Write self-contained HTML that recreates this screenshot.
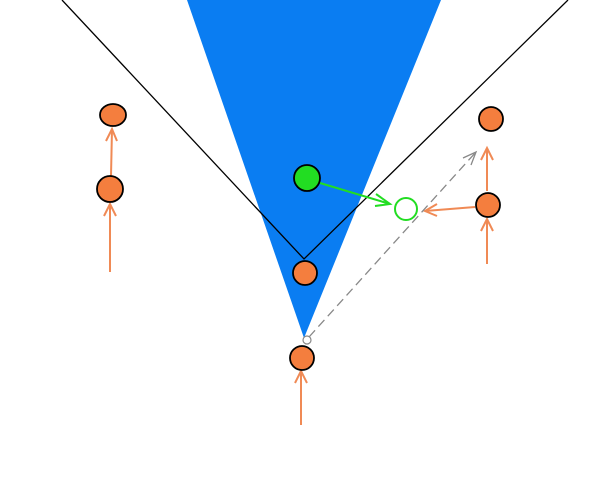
<!DOCTYPE html>
<html><head><style>body{margin:0;background:#fff}svg{display:block}</style></head><body>
<svg width="600" height="478" viewBox="0 0 600 478" xmlns="http://www.w3.org/2000/svg">
<rect width="600" height="478" fill="#fff"/>
<polygon points="187,0 441,0 304,338" fill="#0a7df2"/>
<polyline points="62,0 304,259 568,0" fill="none" stroke="#000" stroke-width="1.3"/>
<g stroke="#f08a55" stroke-width="2" fill="none">
<line x1="110" y1="272" x2="110" y2="204"/><polyline points="104,216 110,204 116,216"/>
<line x1="111" y1="176" x2="112" y2="129"/><polyline points="106,141 112,129 117,141"/>
<line x1="301" y1="425" x2="301" y2="371"/><polyline points="295,383 301,371 307,383"/>
<line x1="487" y1="264" x2="487" y2="219"/><polyline points="481,231 487,219 493,231"/>
<line x1="487" y1="191" x2="487" y2="148"/><polyline points="481,160 487,148 493,160"/>
<line x1="475" y1="207" x2="425" y2="211"/><polyline points="437,204 425,211 437,216"/>
</g>
<line x1="320" y1="183" x2="390" y2="204" stroke="#22dd22" stroke-width="2"/>
<polyline points="376,194 390,204 375,206" fill="none" stroke="#22dd22" stroke-width="2"/>
<line x1="309" y1="337" x2="476" y2="152" stroke="#888" stroke-width="1.3" stroke-dasharray="9,5"/>
<polyline points="463,158 476,152 471,165" fill="none" stroke="#888" stroke-width="1.3"/>
<circle cx="307" cy="340" r="4" fill="#fff" stroke="#888" stroke-width="1.2"/>
<g fill="#f47e3e" stroke="#000" stroke-width="1.8">
<ellipse cx="113" cy="115" rx="13" ry="11"/>
<circle cx="110" cy="189" r="13"/>
<circle cx="305" cy="273" r="12"/>
<circle cx="302" cy="358" r="12"/>
<circle cx="491" cy="119" r="12"/>
<circle cx="488" cy="205" r="12"/>
</g>
<circle cx="307" cy="178" r="13" fill="#22dd22" stroke="#000" stroke-width="1.8"/>
<circle cx="406" cy="209" r="11" fill="#fff" stroke="#22dd22" stroke-width="2"/>
</svg>
</body></html>
